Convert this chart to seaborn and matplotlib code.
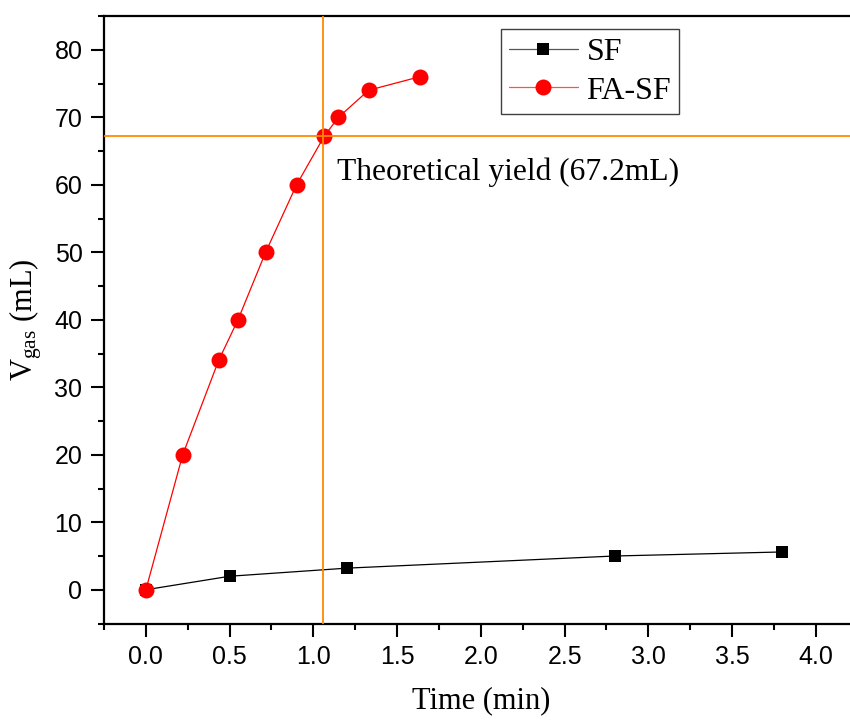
import matplotlib
matplotlib.use("Agg")
import matplotlib.pyplot as plt
import seaborn as sns
import pandas as pd
from matplotlib.ticker import MultipleLocator
from matplotlib.lines import Line2D

# Gas volume released over time
sf_time = [0.0, 0.5, 1.2, 2.8, 3.8]
sf_volume = [0.0, 2.0, 3.2, 5.0, 5.6]

fasf_time = [0.0, 0.22, 0.435, 0.55, 0.715, 0.90, 1.065, 1.15, 1.33, 1.635]
fasf_volume = [0.0, 20.0, 34.0, 40.0, 50.0, 60.0, 67.2, 70.0, 74.0, 76.0]

theoretical_yield = 67.2   # mL
yield_time = 1.055          # min

sns.set_theme(style="ticks")
plt.rcParams["font.family"] = ["Liberation Serif", "DejaVu Serif"]
plt.rcParams["mathtext.fontset"] = "custom"
plt.rcParams["mathtext.rm"] = "Liberation Serif"
plt.rcParams["mathtext.it"] = "Liberation Serif:italic"
for key in ["text.color", "axes.labelcolor", "xtick.color", "ytick.color"]:
    plt.rcParams[key] = "black"

fig = plt.figure(figsize=(8.5, 7.2), dpi=100)
ax = fig.add_axes([104 / 850, (720 - 623.5) / 720, (850 - 104) / 850, (623.5 - 16) / 720])

sf_df = pd.DataFrame({"t": sf_time, "v": sf_volume})
fa_df = pd.DataFrame({"t": fasf_time, "v": fasf_volume})

sns.lineplot(data=sf_df, x="t", y="v", ax=ax, color="black", lw=0.9,
             marker="s", markersize=9.3, markeredgewidth=0, zorder=3)
sns.lineplot(data=fa_df, x="t", y="v", ax=ax, color="#FF0000", lw=0.9,
             marker="o", markersize=11.5, markeredgewidth=0, zorder=4)

orange = "#FF8A00"
ax.axhline(theoretical_yield, color=orange, lw=1.3, zorder=5)
ax.axvline(yield_time, color=orange, lw=1.3, zorder=5)

ax.text(1.14, 60.7, "Theoretical yield (67.2mL)", fontsize=22.7,
        va="baseline", ha="left", color="black")

ax.set_xlim(-0.25, (850 - 145) / 167.7)
ax.set_ylim(-5, 85)

ax.xaxis.set_major_locator(MultipleLocator(0.5))
ax.xaxis.set_minor_locator(MultipleLocator(0.25))
ax.yaxis.set_major_locator(MultipleLocator(10))
ax.yaxis.set_minor_locator(MultipleLocator(5))
ax.set_xticks([0.0, 0.5, 1.0, 1.5, 2.0, 2.5, 3.0, 3.5, 4.0])
ax.set_xticklabels(["0.0", "0.5", "1.0", "1.5", "2.0", "2.5", "3.0", "3.5", "4.0"])
ax.set_yticks([0, 10, 20, 30, 40, 50, 60, 70, 80])
ax.set_yticklabels(["0", "10", "20", "30", "40", "50", "60", "70", "80"])

for lab in ax.get_xticklabels() + ax.get_yticklabels():
    lab.set_family(["Liberation Sans", "DejaVu Sans"])
    lab.set_fontsize(18)
    lab.set_color("black")

ax.tick_params(which="major", direction="out", length=9.5, width=1.5, color="black", pad=6)
ax.tick_params(which="minor", direction="out", length=4.5, width=1.5, color="black")
ax.tick_params(axis="x", which="major", pad=6)

for side in ["left", "bottom", "top"]:
    ax.spines[side].set_linewidth(1.6)
    ax.spines[side].set_color("black")
ax.spines["right"].set_visible(False)

ax.set_xlabel("Time (min)", fontsize=22)
ax.set_ylabel(r"V$_{\mathrm{gas}}$ (mL)", fontsize=22)
ax.xaxis.set_label_coords(0.505, -0.104)
ax.yaxis.set_label_coords(-0.081, 0.5)

handles = [
    Line2D([], [], color="#555555", lw=0.9, marker="s", markersize=9.3,
           markeredgewidth=0, markerfacecolor="black"),
    Line2D([], [], color="#FF5050", lw=0.9, marker="o", markersize=11.5,
           markeredgewidth=0, markerfacecolor="#FF0000"),
]
leg = ax.legend(handles, ["SF", "FA-SF"], loc="upper left",
                bbox_to_anchor=(0.532, 0.978), borderaxespad=0,
                fontsize=23, frameon=True, fancybox=False, framealpha=1,
                edgecolor="#404040", handlelength=2.15, handletextpad=0.28,
                borderpad=0.25, labelspacing=0.3)
leg.get_frame().set_linewidth(1.0)

fig.savefig("out.png", dpi=100)
